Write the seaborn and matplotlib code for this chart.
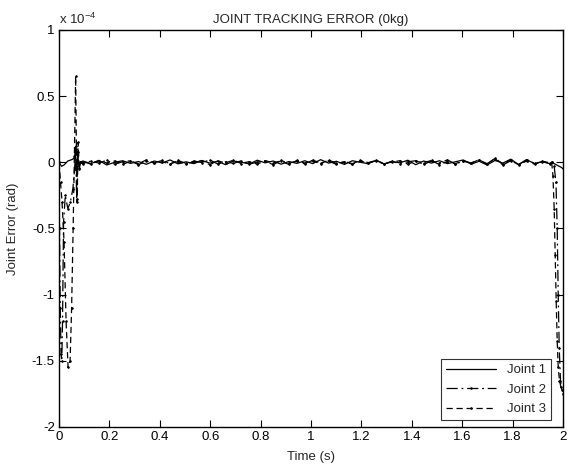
"""Joint tracking error plot (0 kg payload)."""

import matplotlib
matplotlib.use("Agg")
import matplotlib.pyplot as plt
import numpy as np
import pandas as pd
import seaborn as sns

# error values are in units of 1e-4 rad
# start transient (t < 0.09 s)
j1_start_t = [0.0, 0.01, 0.02, 0.035, 0.05, 0.06, 0.065, 0.07, 0.074, 0.078, 0.083]
j1_start_v = [0.0, -0.03, -0.02, 0.01, 0.02, 0.03, 0.08, -0.1, 0.06, -0.03, 0.0]

j2_start_t = [0.0, 0.002, 0.005, 0.008, 0.011, 0.014, 0.018, 0.025, 0.035, 0.045, 0.055, 0.062, 0.066, 0.07, 0.074, 0.079, 0.084]
j2_start_v = [0.0, -0.5, -1.1, -1.45, -1.5, -1.2, -0.45, -0.25, -0.35, -0.3, -0.2, -0.05, 0.12, -0.28, 0.08, -0.04, 0.0]

j3_start_t = [0.0, 0.006, 0.012, 0.02, 0.028, 0.036, 0.044, 0.05, 0.056, 0.061, 0.066, 0.069, 0.072, 0.076, 0.08, 0.086]
j3_start_v = [0.0, -0.15, -0.3, -0.6, -1.2, -1.55, -1.5, -1.1, -0.5, 0.05, 0.65, 0.1, -0.3, 0.15, -0.05, 0.0]

# steady-state ripple (0.09 s .. 1.95 s)
j1_mid = [0.01, -0.01, 0.015, -0.02, 0.0, 0.012, -0.008, 0.006, -0.015, 0.01,
          -0.005, 0.018, -0.012, 0.004, -0.01, 0.014, -0.006, 0.008, -0.018, 0.01,
          0.0, -0.012, 0.016, -0.004, 0.01, -0.014, 0.006, -0.008, 0.012, -0.01,
          0.02, -0.006, 0.008, -0.016, 0.012, 0.0, -0.01, 0.014, -0.012, 0.006,
          -0.004, 0.016, -0.018, 0.01, -0.006, 0.012, -0.01, 0.004, 0.018, -0.014,
          0.008, -0.02, 0.014, -0.006, 0.024, -0.018, 0.02, -0.01, 0.006, -0.012]
j2_mid = [-0.012, 0.01, -0.006, 0.016, -0.014, 0.004, 0.012, -0.018, 0.008, -0.004,
          0.014, -0.01, 0.006, -0.016, 0.01, -0.002, 0.018, -0.012, 0.004, -0.008,
          0.012, -0.014, 0.002, 0.01, -0.018, 0.014, -0.006, 0.008, -0.012, 0.016,
          -0.004, 0.01, -0.016, 0.006, -0.01, 0.014, -0.002, 0.012, -0.014, 0.008,
          -0.01, 0.004, 0.012, -0.016, 0.01, -0.006, 0.018, -0.012, 0.008, -0.004,
          0.016, -0.01, 0.026, -0.02, 0.012, -0.016, 0.02, -0.008, 0.004, -0.01]
j3_mid = [0.006, -0.014, 0.012, -0.004, 0.01, -0.016, 0.008, -0.01, 0.018, -0.006,
          0.004, -0.012, 0.014, -0.008, 0.002, 0.012, -0.018, 0.01, -0.004, 0.016,
          -0.01, 0.006, -0.014, 0.012, -0.002, 0.008, -0.016, 0.014, -0.006, 0.01,
          -0.012, 0.018, -0.008, 0.004, -0.014, 0.01, -0.006, 0.016, -0.01, 0.002,
          0.012, -0.014, 0.008, -0.002, 0.014, -0.018, 0.006, -0.01, 0.012, -0.006,
          0.02, -0.014, 0.03, -0.012, 0.018, -0.02, 0.01, -0.014, 0.008, -0.004]

# end transient (t > 1.95 s)
j1_end_t = [1.955, 1.965, 1.975, 1.985, 1.995, 2.0]
j1_end_v = [0.0, -0.01, -0.02, -0.03, -0.04, -0.05]

j2_end_t = [1.955, 1.965, 1.972, 1.977, 1.981, 1.985, 1.99, 1.995, 2.0]
j2_end_v = [0.0, -0.03, -0.15, -0.5, -1.0, -1.4, -1.65, -1.72, -1.75]

j3_end_t = [1.955, 1.96, 1.965, 1.969, 1.973, 1.977, 1.981, 1.986, 1.992, 2.0]
j3_end_v = [0.0, -0.1, -0.35, -0.7, -1.05, -1.35, -1.55, -1.65, -1.7, -1.72]

labels = ["Joint 1", "Joint 2", "Joint 3"]

sns.set_theme(style="ticks")
plt.rcParams["font.family"] = ["Liberation Sans", "DejaVu Sans"]
plt.rcParams["font.size"] = 9.5


def build(start_t, start_v, mid_v, end_t, end_v):
    mid_t = np.linspace(0.095, 1.95, len(mid_v))
    t = list(start_t) + list(mid_t) + list(end_t)
    v = list(start_v) + list(mid_v) + list(end_v)
    return pd.DataFrame({"t": t, "err": v})


series = [
    build(j1_start_t, j1_start_v, j1_mid, j1_end_t, j1_end_v),
    build(j2_start_t, j2_start_v, j2_mid, j2_end_t, j2_end_v),
    build(j3_start_t, j3_start_v, j3_mid, j3_end_t, j3_end_v),
]
styles = [
    dict(linestyle="-", marker=None),
    dict(linestyle=(0, (9, 3, 1.5, 3)), marker=".", markersize=2.5,
         markeredgecolor="black", markerfacecolor="black", markeredgewidth=0.5),
    dict(linestyle=(0, (5, 3)), marker=".", markersize=2.5,
         markeredgecolor="black", markerfacecolor="black", markeredgewidth=0.5),
]

fig = plt.figure(figsize=(5.68, 4.70), dpi=100)
ax = fig.add_axes([0.1039, 0.0915, 0.8873, 0.8447])

for df, lab, st in zip(series, labels, styles):
    sns.lineplot(data=df, x="t", y="err", ax=ax, color="black", lw=0.9,
                 estimator=None, sort=False, label=lab, **st)

ax.set_xlim(0, 2)
ax.set_ylim(-2, 1)
ax.set_xticks(np.arange(0, 2.01, 0.2))
ax.set_xticklabels(["0", "0.2", "0.4", "0.6", "0.8", "1", "1.2", "1.4", "1.6", "1.8", "2"])
ax.set_yticks([-2, -1.5, -1, -0.5, 0, 0.5, 1])
ax.set_yticklabels(["-2", "-1.5", "-1", "-0.5", "0", "0.5", "1"])
ax.tick_params(direction="in", top=True, right=True, length=5, width=0.8,
               labelsize=9.5, colors="black", pad=3)
for sp in ax.spines.values():
    sp.set_visible(True)
    sp.set_color("black")
    sp.set_linewidth(1.0)

ax.set_xlabel("Time (s)", fontsize=9.5, labelpad=6)
ax.set_ylabel("Joint Error (rad)", fontsize=9.5, labelpad=9)
ax.set_title("JOINT TRACKING ERROR (0kg)", fontsize=9.5, pad=5)
ax.text(0.0, 1.008, r"x 10$^{\mathregular{-4}}$", transform=ax.transAxes,
        fontsize=9.5, ha="left", va="bottom")

leg = ax.legend(loc="lower right", frameon=True, fancybox=False, fontsize=9.5,
                handlelength=3.8, borderaxespad=0.5, labelspacing=0.55,
                bbox_to_anchor=(0.99, 0.0))
leg.get_frame().set_edgecolor("black")
leg.get_frame().set_linewidth(0.8)

fig.savefig("out.png", dpi=100)
